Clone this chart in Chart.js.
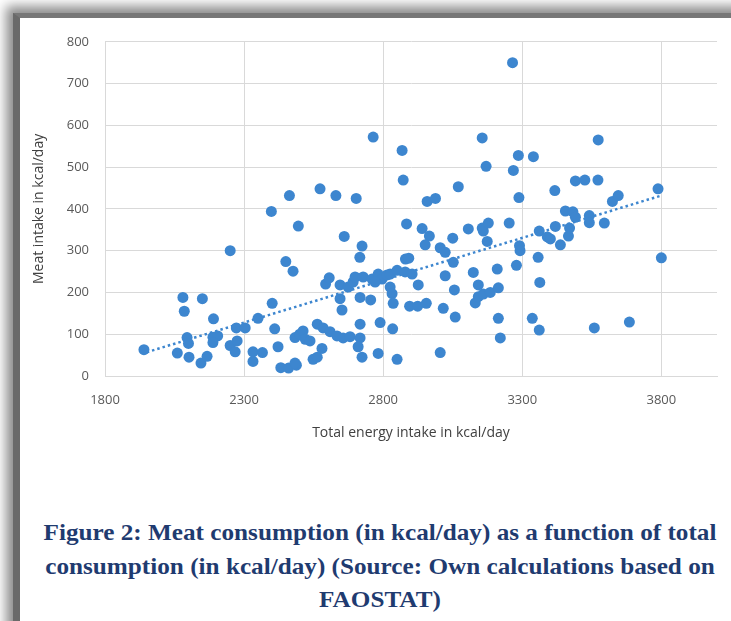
<!DOCTYPE html>
<html>
<head>
<meta charset="utf-8">
<script src="https://cdn.jsdelivr.net/npm/chart.js@4/dist/chart.umd.min.js"></script>
<style>
  html, body { margin: 0; padding: 0; background: #ffffff; }
  body { width: 731px; height: 621px; position: relative; overflow: hidden; }
  .frame {
    position: absolute; left: 13px; top: 13px; width: 760px; height: 660px;
    border-left: 7px solid #6a6a6a; border-top: 5px solid #777777;
    box-shadow: -7px -7px 11px rgba(0,0,0,0.45);
    background: #ffffff;
  }
  .chart-box { position: absolute; left: 20px; top: 18px; width: 705px; height: 440px; }
  .caption {
    position: absolute; left: 30px; top: 516px; width: 700px;
    text-align: center; font-family: "Liberation Serif", "Times New Roman", serif;
    font-weight: bold; font-size: 24px; line-height: 33.5px; color: #1f3b70;
    transform: scaleX(1.05); transform-origin: 350px 0;
  }
</style>
</head>
<body>
<div class="frame"></div>
<div class="chart-box"><canvas id="c" width="705" height="440"></canvas></div>
<div class="caption">Figure 2: Meat consumption (in kcal/day) as a function of total<br>consumption (in kcal/day) (Source: Own calculations based on<br>FAOSTAT)</div>
<script>
// Total energy intake per country (kcal/day)
const energyIntake = [
  1940, 2060, 2080, 2085, 2095, 2100, 2102, 2150, 2145, 2167,
  2190, 2188, 2205, 2188, 2250, 2250, 2268, 2275, 2272, 2304,
  2332, 2366, 2332, 2350, 2398, 2401, 2410, 2422, 2432, 2460,
  2488, 2450, 2463, 2476, 2483, 2495,
  2483, 2500, 2512, 2520, 2537, 2548, 2563, 2580, 2563, 2584,
  2609, 2634, 2656, 2681, 2573, 2630, 2703, 2593, 2606, 2645,
  2674, 2645, 2652, 2660, 2724, 2716, 2717, 2717, 2710, 2724,
  2782, 2850, 2717, 2755, 2764,
  2692, 2699, 2728, 2760, 2782, 2796, 2814, 2825, 2850, 2879,
  2904, 2771, 2825, 2832, 2836, 2789, 2834, 2880, 2892, 2868,
  2872, 2884, 2926, 2895, 2924, 2955, 2940, 2966, 2951, 2958,
  2988, 3005, 3005, 3023, 3023, 3016, 3050, 3052, 3056, 3059,
  3070,
  3106, 3124, 3131, 3142, 3142, 3156, 3160, 3160, 3156, 3170,
  3174, 3178, 3185, 3210, 3214, 3214, 3221, 3253, 3265, 3268,
  3286, 3288, 3279, 3290, 3292,
  3336, 3340, 3357, 3363, 3361, 3361, 3390, 3401, 3417, 3419,
  3437, 3455, 3466, 3470, 3482, 3491, 3491, 3525, 3572, 3573,
  3541, 3541, 3559, 3595, 3624, 3645, 3685, 3788, 3800
];

// Meat intake per country (kcal/day), same order as energyIntake
const meatIntake = [
  63, 55, 188, 155, 92, 78, 45, 185, 31, 47,
  137, 93, 96, 80, 300, 73, 58, 84, 115, 115,
  58, 56, 35, 138, 394, 174, 113, 70, 20, 19,
  26, 274, 432, 251, 31, 359,
  92, 100, 108, 88, 84, 40, 45, 66, 124, 115,
  106, 96, 91, 94, 448, 432, 425, 220, 235, 218,
  213, 185, 158, 334, 311, 284, 124, 91, 70, 45,
  54, 40, 188, 182, 572,
  225, 237, 237, 232, 244, 232, 242, 244, 253, 249,
  244, 225, 213, 197, 174, 128, 113, 280, 282, 540,
  469, 364, 218, 167, 167, 174, 353, 335, 314, 418,
  425, 307, 56, 296, 240, 162, 330, 272, 206, 141,
  453,
  352, 248, 175, 190, 218, 354, 347, 196, 570, 502,
  322, 366, 200, 256, 211, 138, 91, 366, 750, 492,
  528, 427, 265, 312, 300,
  138, 525, 284, 224, 110, 347, 333, 328, 444, 358,
  314, 395, 335, 354, 393, 380, 467, 469, 469, 565,
  384, 367, 115, 366, 418, 432, 129, 448, 283
];

// Linear trend line end points
const trendEnergy = [1950, 3800];
const trendMeat = [57, 432];

// Axis ticks
const xTickValues = [1800, 2300, 2800, 3300, 3800];
const yTickValues = [0, 100, 200, 300, 400, 500, 600, 700, 800];

const points = energyIntake.map((x, i) => ({ x: x, y: meatIntake[i] }));
const trend = trendEnergy.map((x, i) => ({ x: x, y: trendMeat[i] }));

const blue = '#3d86cf';
const gridColor = '#d9d9d9';
const labelFont = { family: "'Open Sans', 'Liberation Sans', sans-serif", size: 13 };

new Chart(document.getElementById('c'), {
  type: 'scatter',
  data: {
    datasets: [
      {
        label: 'Meat intake',
        data: points,
        backgroundColor: blue,
        borderColor: blue,
        borderWidth: 0,
        pointRadius: 5.5,
        pointHoverRadius: 5.5
      },
      {
        label: 'Trend',
        type: 'line',
        data: trend,
        borderColor: blue,
        borderWidth: 2.5,
        borderDash: [2.5, 3],
        pointRadius: 0,
        fill: false
      }
    ]
  },
  options: {
    responsive: false,
    animation: false,
    events: [],
    layout: { padding: { top: 17, right: 8, left: 0, bottom: 0 } },
    plugins: { legend: { display: false }, tooltip: { enabled: false } },
    scales: {
      x: {
        type: 'linear',
        min: 1800,
        max: 4000,
        afterBuildTicks: (s) => { s.ticks = xTickValues.map(v => ({ value: v })); },
        afterFit: (s) => { s.height = 82; },
        grid: { color: gridColor, drawTicks: false, lineWidth: 1 },
        border: { display: true, color: gridColor },
        ticks: { padding: 16, color: '#595959', font: labelFont, callback: (v) => String(v) },
        title: {
          display: true,
          text: 'Total energy intake in kcal/day',
          color: '#404040',
          font: { family: labelFont.family, size: 14 },
          padding: { top: 0, bottom: 17 }
        }
      },
      y: {
        type: 'linear',
        min: 0,
        max: 800,
        afterBuildTicks: (s) => { s.ticks = yTickValues.map(v => ({ value: v })); },
        afterFit: (s) => { s.width = 85; },
        grid: { color: gridColor, drawTicks: false, lineWidth: 1 },
        border: { display: true, color: gridColor },
        ticks: { padding: 16, color: '#595959', font: labelFont, callback: (v) => String(v) },
        title: {
          display: true,
          text: 'Meat intake in kcal/day',
          color: '#404040',
          font: { family: labelFont.family, size: 14 },
          padding: { top: 11, bottom: 0 }
        }
      }
    }
  }
});
</script>
</body>
</html>
